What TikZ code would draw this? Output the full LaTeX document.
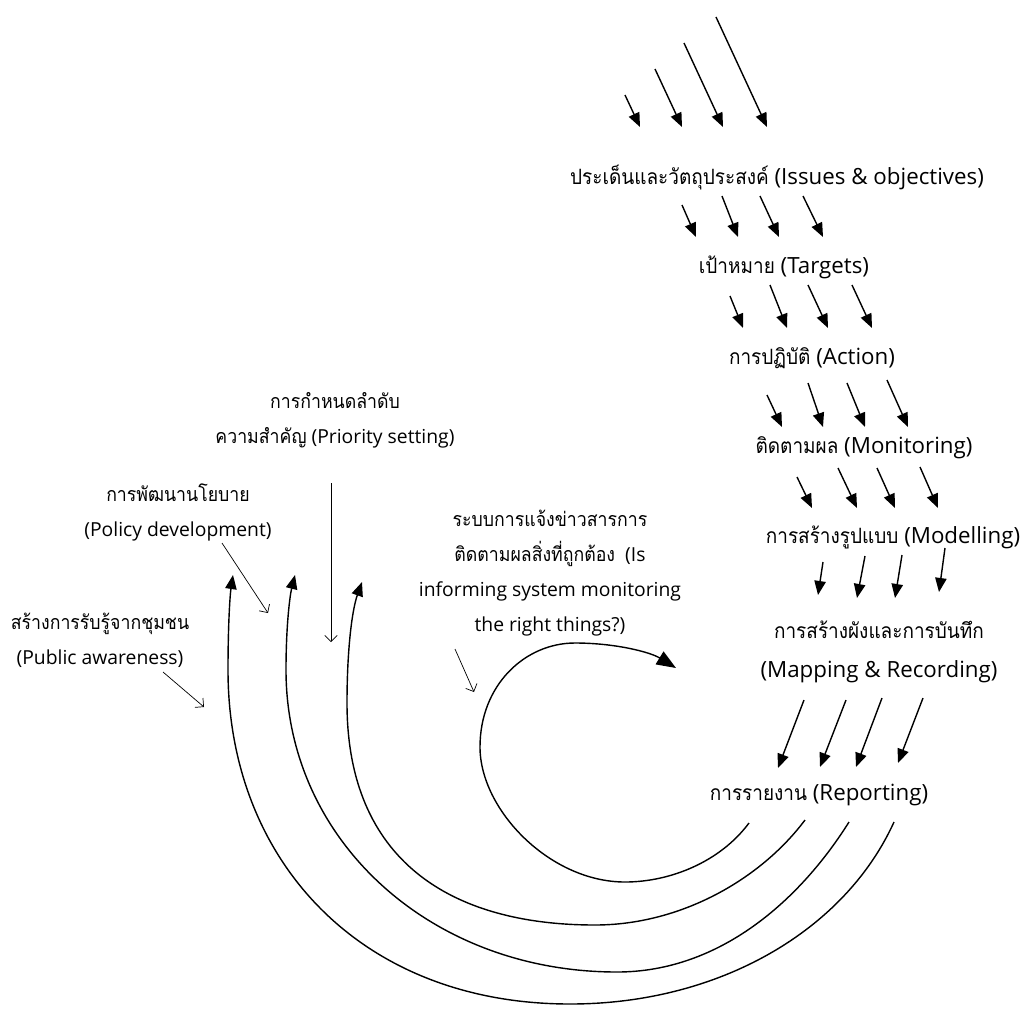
\documentclass[tikz,border=0pt]{standalone}
\usepackage{fontspec}
\setmainfont{Open Sans}
\newfontfamily\thaifont[Script=Thai, FakeStretch=0.9]{Loma}
\newcommand{\thaipt}{11}
\newcommand{\thai}[1]{{\thaifont\fontsize{\thaipt}{\baselineskip}\selectfont #1}}
\usepackage{tikz}
\usetikzlibrary{arrows.meta}
\usetikzlibrary{calc}

\begin{document}
\begin{tikzpicture}[
        x=0.02cm, y=-0.02cm,
        stage/.style={align=center, inner sep=0pt, font=\renewcommand{\thaipt}{12}\fontsize{12.7}{22}\selectfont},
        remark/.style={align=center, inner sep=0pt, font=\renewcommand{\thaipt}{11.2}\fontsize{11}{19.9}\selectfont},
        arrow/.style={line width=0.8pt, -{Triangle[length=8pt, width=6.5pt]}},
        bigarrow/.style={line width=0.8pt, -{Triangle[length=11pt, width=8.5pt]}},
        pointer/.style={line width=0.4pt, -{Straight Barb[length=3.5pt, width=7pt]}}
    ]
        \useasboundingbox (0,0) rectangle (1028,1008);

        % ===== 主链 =====
        \node (issues) [stage] at (777,177) {\thai{ประเด็นและวัตถุประสงค์} (Issues \& objectives)};
        \node (targets) [stage] at (784,267) {\thai{เป้าหมาย} (Targets)};
        \node (action) [stage] at (812,358) {\thai{การปฏิบัติ} (Action)};
        \node (monitoring) [stage] at (864,448) {\thai{ติดตามผล} (Monitoring)};
        \node (modelling) [stage] at (893,537) {\thai{การสร้างรูปแบบ} (Modelling)};
        \node (mapping) [stage] at (879,652) {\thai{การสร้างผังและการบันทึก}\\(Mapping \& Recording)};
        \node (reporting) [stage] at (819,795) {\thai{การรายงาน} (Reporting)};

        % ===== 左侧说明 =====
        \node (priority) [remark] at (335,420) {\thai{การกำหนดลำดับ}\\\thai{ความสำคัญ} (Priority setting)};
        \node (policy) [remark] at (178,512) {\thai{การพัฒนานโยบาย}\\(Policy development)};
        \node (awareness) [remark] at (100,640) {\thai{สร้างการรับรู้จากชุมชน}\\(Public awareness)};
        \node (informing) [remark] at (550,573) {\thai{ระบบการแจ้งข่าวสารการ}\\\thai{ติดตามผลสิ่งที่ถูกต้อง}\ \ (Is\\informing system monitoring\\the right things?)};

        % ===== 绝对坐标关键点定义 =====
        \coordinate (loopTip) at (676,668);
        \coordinate (backInner) at (362,582);
        \coordinate (backMiddle) at (295,575);
        \coordinate (backOuter) at (233,575);
        \coordinate (priorityTail) at (331,483);
        \coordinate (priorityTip) at (331,642);
        \coordinate (policyTail) at (222,543);
        \coordinate (policyTip) at (268,613);
        \coordinate (awarenessTail) at (163,672);
        \coordinate (awarenessTip) at (204,707);
        \coordinate (informingTail) at (455,649);
        \coordinate (informingTip) at (474,692);

        % ===== 流入箭头 =====
        \foreach \ex/\dx/\dy in {-137/-15/-32, -95/-27/-58, -54/-39/-84, -10/-51/-110}
            \draw [arrow] ($(issues)+(\ex,-50)+(\dx,\dy)$) -- ($(issues)+(\ex,-50)$);

        % 逐级箭头
        \foreach \sx/\sy/\ex/\ey in {-95/28/-88/-30, -55/19/-46/-30, -17/19/-5/-30, 26/19/39/-30}
            \draw [arrow] ($(issues)+(\sx,\sy)$) -- ($(targets)+(\ex,\ey)$);
        \foreach \sx/\sy/\ex/\ey in {-54/29/-69/-30, -14/18/-25/-30, 24/18/16/-30, 68/18/60/-30}
            \draw [arrow] ($(targets)+(\sx,\sy)$) -- ($(action)+(\ex,\ey)$);
        \foreach \sx/\sy/\ex/\ey in {-45/37/-82/-21, -4/25/-41/-21, 35/25/1/-21, 75/22/44/-21}
            \draw [arrow] ($(action)+(\sx,\sy)$) -- ($(monitoring)+(\ex,\ey)$);
        \foreach \sx/\sy/\ex/\ey in {-67/29/-81/-29, -26/20/-36/-29, 13/20/2/-29, 56/19/45/-29}
            \draw [arrow] ($(monitoring)+(\sx,\sy)$) -- ($(modelling)+(\ex,\ey)$);
        \foreach \sx/\sy/\ex/\ey in {-70/25/-61/-57, -28/19/-22/-54, 9/18/16/-54, 52/11/60/-60}
            \draw [arrow] ($(modelling)+(\sx,\sy)$) -- ($(mapping)+(\ex,\ey)$);
        \foreach \sx/\sy/\ex/\ey in {-75/48/-41/-27, -33/48/1/-28, 3/46/37/-28, 44/46/79/-32}
            \draw [arrow] ($(mapping)+(\sx,\sy)$) -- ($(reporting)+(\ex,\ey)$);

        % ===== 回路曲线 =====
        \draw [bigarrow] ($(reporting)+(-70,28)$) .. controls (720,862) and (670,882) .. (625,882)
            .. controls (550,882) and (480,810) .. (480,747)
            .. controls (480,685) and (525,643) .. (575,643)
            .. controls (615,643) and (650,652) .. (loopTip);
        \draw [arrow] ($(reporting)+(-14,25)$) .. controls (760,880) and (680,925) .. (595,925)
            .. controls (450,925) and (347,860) .. (347,703)
            .. controls (347,650) and (352,610) .. (backInner);
        \draw [arrow] ($(reporting)+(30,27)$) .. controls (800,900) and (720,972) .. (617,972)
            .. controls (430,972) and (286,840) .. (286,670)
            .. controls (286,625) and (290,595) .. (backMiddle);
        \draw [arrow] ($(reporting)+(75,27)$) .. controls (845,930) and (720,1004) .. (570,1004)
            .. controls (360,1004) and (228,860) .. (228,670)
            .. controls (228,625) and (230,595) .. (backOuter);

        % ===== 说明指向 =====
        \draw [pointer] (priorityTail) -- (priorityTip);
        \draw [pointer] (policyTail) -- (policyTip);
        \draw [pointer] (awarenessTail) -- (awarenessTip);
        \draw [pointer] (informingTail) -- (informingTip);

    \end{tikzpicture}
\end{document}
